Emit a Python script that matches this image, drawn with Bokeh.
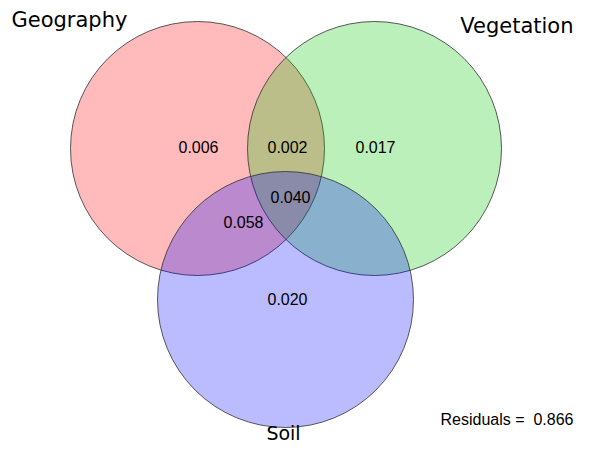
from bokeh.plotting import figure
from bokeh.models import Range1d, ColumnDataSource
from bokeh.core.properties import value
from bokeh.embed import file_html
from bokeh.resources import INLINE

# Data
sets = ["Geography", "Vegetation", "Soil"]
set_colors = ["#ff0000", "#00c800", "#0000ff"]
region_labels = ["0.006", "0.002", "0.017", "0.040", "0.058", "0.020"]
residuals = 0.866

# Layout of the fitted diagram (pixel-like units, y downwards)
cx = [197, 374, 285]
cy = [148, 148, 299]
radii = [127, 127, 128]
reg_x = [198, 287, 375, 290, 243, 287]
reg_y = [146, 146, 146, 196, 221, 298]

W, H = 574, 442
p = figure(width=W, height=H, output_backend="svg", toolbar_location=None,
           x_range=Range1d(0, W), y_range=Range1d(H, 0),
           x_axis_type=None, y_axis_type=None, min_border=0)
p.outline_line_color = None
p.grid.visible = False

for i in range(3):
    p.circle(x=[cx[i]], y=[cy[i]], radius=radii[i], fill_color=set_colors[i],
             fill_alpha=0.265, line_color="#333333", line_width=0.9, line_alpha=0.9)

src = ColumnDataSource(dict(x=reg_x, y=reg_y, t=region_labels))
p.text(x="x", y="y", text="t", source=src, text_align="center",
       text_baseline="middle", text_font=value("Liberation Sans"),
       text_font_size="16px", text_color="black")

# set labels
p.text(x=[11], y=[19], text=[sets[0]], text_align="left", text_baseline="middle",
       text_font=value("DejaVu Sans"), text_font_size="21px", text_color="black")
p.text(x=[573], y=[25], text=[sets[1]], text_align="right", text_baseline="middle",
       text_font=value("DejaVu Sans"), text_font_size="21px", text_color="black")
p.text(x=[283], y=[432], text=[sets[2]], text_align="center", text_baseline="middle",
       text_font=value("DejaVu Sans"), text_font_size="19px", text_color="black")

p.text(x=[573], y=[419], text=["Residuals =\u00a0 %.3f" % residuals], text_align="right",
       text_baseline="middle", text_font=value("Liberation Sans"),
       text_font_size="16px", text_color="black")

open("out.html", "w").write(file_html(p, INLINE))
